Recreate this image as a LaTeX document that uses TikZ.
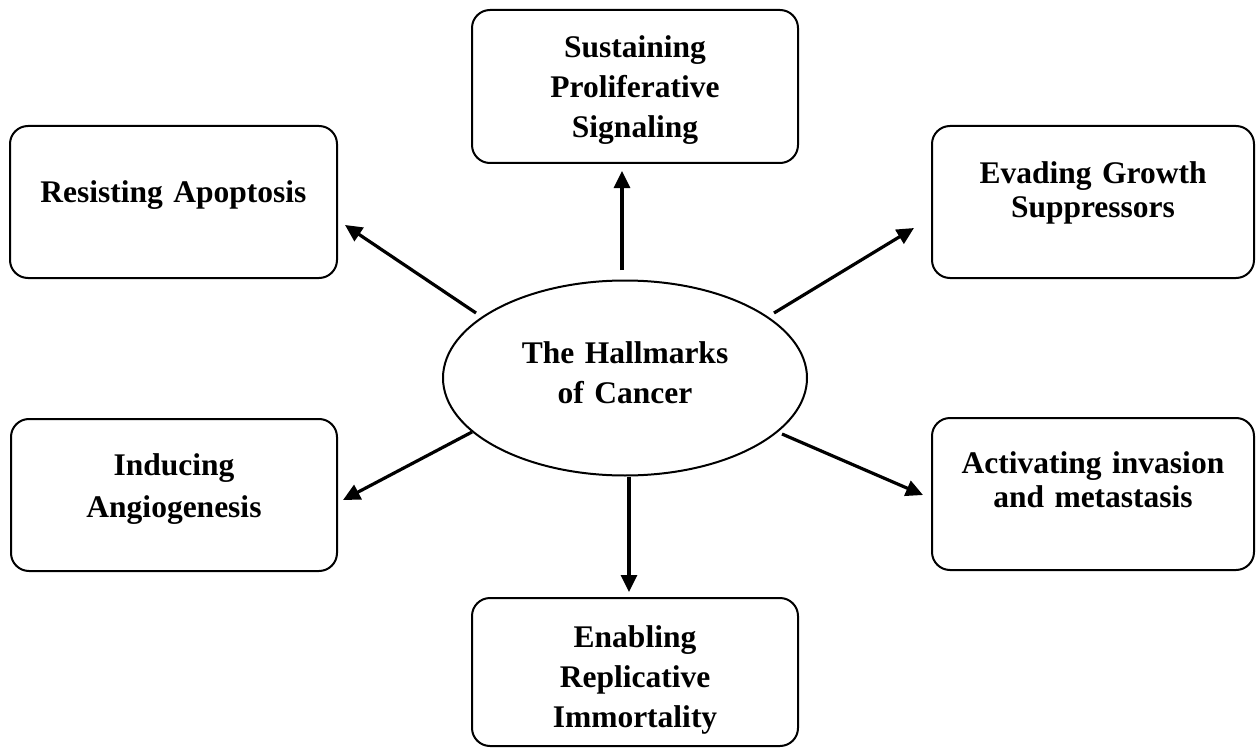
\documentclass[tikz,border=0pt]{standalone}
\usepackage{fontspec}
\setmainfont{Liberation Serif}
\usetikzlibrary{arrows.meta,shapes.geometric}
\begin{document}
\begin{tikzpicture}[x=1pt,y=-1pt,
  hbox/.style={draw, line width=2pt, rounded corners=18pt, inner sep=0pt,
    outer sep=0pt, align=center, anchor=north west,
    font=\bfseries\fontsize{31.5}{40}\selectfont},
  tight/.style={font=\bfseries\fontsize{31.5}{34.5}\selectfont},
  loose/.style={font=\bfseries\fontsize{31.5}{42}\selectfont},
  hub/.style={draw, ellipse, line width=2pt, inner sep=0pt, outer sep=0pt,
    align=center, text width=220pt, text height=30pt, text depth=60pt,
    minimum width=364pt, minimum height=195pt,
    font=\bfseries\fontsize{31.5}{40}\selectfont},
  arr/.style={line width=3.2pt, -{Triangle[length=17pt,width=16pt]}}]
\useasboundingbox (0,0) rectangle (1256,749);

% central hub
\node[hub] (hm) at (625,378) {The Hallmarks\\of Cancer};

% the six hallmarks
\node[hbox, text width=326pt, text height=48pt, text depth=105pt] (sps) at (472,10)
  {Sustaining\\Proliferative\\Signaling};
\node[hbox, text width=327pt, text height=76pt, text depth=76pt] (ra) at (10,126)
  {Resisting Apoptosis};
\node[hbox, tight, text width=322pt, text height=57pt, text depth=95pt] (egs) at (932,126)
  {Evading Growth\\Suppressors};
\node[hbox, loose, text width=326pt, text height=56pt, text depth=96pt] (ia) at (11,419)
  {Inducing\\Angiogenesis};
\node[hbox, tight, text width=322pt, text height=55pt, text depth=97pt] (aim) at (932,418)
  {Activating invasion\\and metastasis};
\node[hbox, text width=326pt, text height=49pt, text depth=99pt] (eri) at (472,598)
  {Enabling\\Replicative\\Immortality};

% arrow ends
\coordinate (s1) at (622,270); \coordinate (e1) at (622,171);
\coordinate (s2) at (476,313); \coordinate (e2) at (345,225);
\coordinate (s3) at (774,313); \coordinate (e3) at (914,228);
\coordinate (s4) at (472,432); \coordinate (e4) at (343,500);
\coordinate (s5) at (782,434); \coordinate (e5) at (923,495);
\coordinate (s6) at (629,477); \coordinate (e6) at (629,592);

\draw[arr] (s1) -- (e1);
\draw[arr] (s2) -- (e2);
\draw[arr] (s3) -- (e3);
\draw[arr] (s4) -- (e4);
\draw[arr] (s5) -- (e5);
\draw[arr] (s6) -- (e6);
\end{tikzpicture}
\end{document}
